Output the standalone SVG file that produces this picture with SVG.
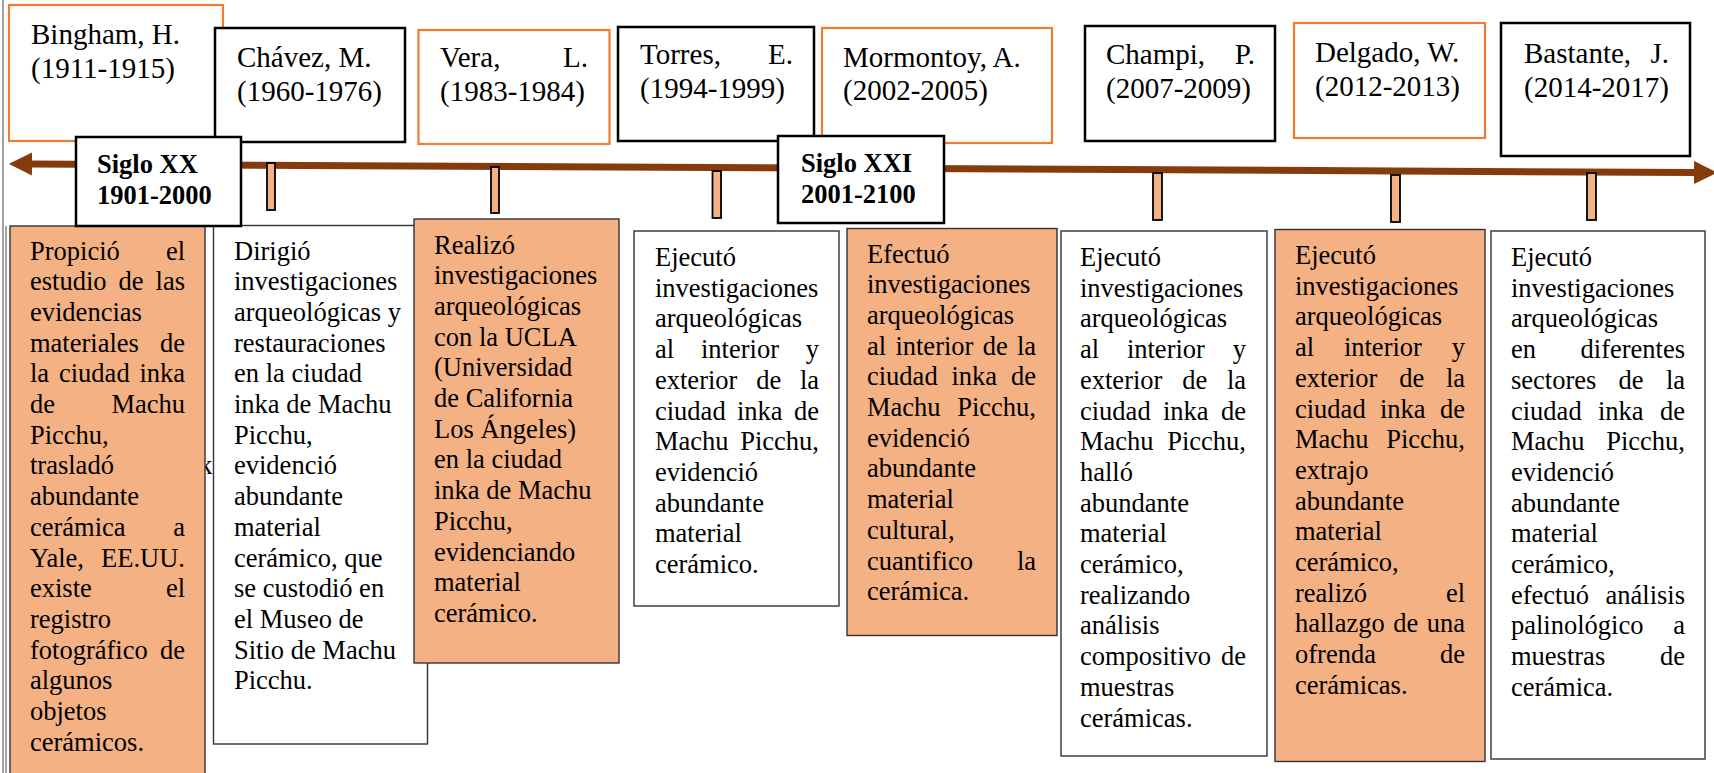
<svg xmlns="http://www.w3.org/2000/svg" width="1714" height="773" viewBox="0 0 1714 773">
<style>
.t{font-family:"Liberation Serif","Times New Roman",serif;font-size:26.5px;fill:#000}
.h{font-family:"Liberation Serif","Times New Roman",serif;font-size:29px;fill:#000}
.b{font-family:"Liberation Serif","Times New Roman",serif;font-size:26.5px;font-weight:bold;fill:#000}
.r{text-anchor:end}
.ob{fill:#F4B183;stroke:#333;stroke-width:1.4}
.wb{fill:#fff;stroke:#333;stroke-width:1.4}
.ho{fill:#fff;stroke:#ED7D31;stroke-width:2.2}
.hk{fill:#fff;stroke:#000;stroke-width:2.5}
.tick{fill:#F4B183;stroke:#000;stroke-width:1.8}
</style>
<defs>
<marker id="ah" viewBox="0 0 10 10" refX="0" refY="5" markerWidth="3.3" markerHeight="3.3" orient="auto-start-reverse" markerUnits="strokeWidth"><path d="M0,0 L10,5 L0,10 z" fill="#843C0C"/></marker>
</defs>
<rect width="1714" height="773" fill="#fff"/>
<g id="border">
<line x1="3" y1="0" x2="3" y2="773" stroke="#444" stroke-width="1"/>
<line x1="6" y1="226" x2="6" y2="773" stroke="#444" stroke-width="1"/>
</g>
<text class="t" x="199" y="474.4">k</text>
<g id="hdr-bingham"><rect class="ho" x="9" y="5" width="214" height="136"/>
<text class="h"><tspan x="31" y="44">Bingham, H.</tspan><tspan x="31" y="78">(1911-1915)</tspan></text></g>
<g id="hdr-chavez"><rect class="hk" x="215" y="28" width="190" height="114"/>
<text class="h"><tspan x="237" y="67">Chávez, M.</tspan><tspan x="237" y="101">(1960-1976)</tspan></text></g>
<g id="hdr-vera"><rect class="ho" x="418.5" y="30" width="191" height="114"/>
<text class="h"><tspan x="440" y="67">Vera,</tspan><tspan x="440" y="101">(1983-1984)</tspan></text><text class="h r" x="588" y="67">L.</text></g>
<g id="hdr-torres"><rect class="hk" x="618" y="27" width="196" height="114"/>
<text class="h"><tspan x="640" y="64">Torres,</tspan><tspan x="640" y="98">(1994-1999)</tspan></text><text class="h r" x="793" y="64">E.</text></g>
<g id="hdr-mormontoy"><rect class="ho" x="822" y="28" width="230" height="115"/>
<text class="h"><tspan x="843" y="67">Mormontoy, A.</tspan><tspan x="843" y="100">(2002-2005)</tspan></text></g>
<g id="hdr-champi"><rect class="hk" x="1085" y="26" width="190" height="115"/>
<text class="h"><tspan x="1106" y="64">Champi,</tspan><tspan x="1106" y="98">(2007-2009)</tspan></text><text class="h r" x="1255" y="64">P.</text></g>
<g id="hdr-delgado"><rect class="ho" x="1294" y="23" width="191" height="115"/>
<text class="h"><tspan x="1315" y="62">Delgado, W.</tspan><tspan x="1315" y="96">(2012-2013)</tspan></text></g>
<g id="hdr-bastante"><rect class="hk" x="1501" y="23" width="189" height="133"/>
<text class="h"><tspan x="1524" y="63">Bastante,</tspan><tspan x="1524" y="97">(2014-2017)</tspan></text><text class="h r" x="1669" y="63">J.</text></g>
<g id="connectors">
<line x1="32" y1="164" x2="1694" y2="172.5" stroke="#843C0C" stroke-width="7" marker-start="url(#ah)" marker-end="url(#ah)"/>
<rect class="tick" x="267" y="163" width="8" height="47"/>
<rect class="tick" x="491" y="167" width="8" height="46"/>
<rect class="tick" x="712.5" y="171" width="8.5" height="47"/>
<rect class="tick" x="1153" y="173" width="9" height="47"/>
<rect class="tick" x="1391" y="175" width="9" height="47"/>
<rect class="tick" x="1587" y="173" width="9" height="47"/>
</g>
<g id="box-bingham"><rect class="ob" x="10" y="226" width="195" height="560"/>
<text class="t"><tspan x="30" y="259.5">Propició</tspan><tspan x="30" y="290.2">estudio</tspan><tspan x="118.6" y="290.2">de</tspan><tspan x="30" y="320.9">evidencias</tspan><tspan x="30" y="351.6">materiales</tspan><tspan x="30" y="382.3">la</tspan><tspan x="59" y="382.3">ciudad</tspan><tspan x="30" y="413">de</tspan><tspan x="30" y="443.7">Picchu,</tspan><tspan x="30" y="474.4">trasladó</tspan><tspan x="30" y="505.1">abundante</tspan><tspan x="30" y="535.8">cerámica</tspan><tspan x="30" y="566.5">Yale,</tspan><tspan x="30" y="597.2">existe</tspan><tspan x="30" y="627.9">registro</tspan><tspan x="30" y="658.6">fotográfico</tspan><tspan x="30" y="689.3">algunos</tspan><tspan x="30" y="720">objetos</tspan><tspan x="30" y="750.7">cerámicos.</tspan></text>
<text class="t r"><tspan x="185" y="259.5">el</tspan><tspan x="185" y="290.2">las</tspan><tspan x="185" y="351.6">de</tspan><tspan x="185" y="382.3">inka</tspan><tspan x="185" y="413">Machu</tspan><tspan x="185" y="535.8">a</tspan><tspan x="185" y="566.5">EE.UU.</tspan><tspan x="185" y="597.2">el</tspan><tspan x="185" y="658.6">de</tspan></text></g>
<g id="box-chavez"><rect class="wb" x="213.5" y="225.5" width="214" height="518.5"/>
<text class="t"><tspan x="234" y="259.5">Dirigió</tspan><tspan x="234" y="290.2">investigaciones</tspan><tspan x="234" y="320.9">arqueológicas y</tspan><tspan x="234" y="351.6">restauraciones</tspan><tspan x="234" y="382.3">en la ciudad</tspan><tspan x="234" y="413">inka de Machu</tspan><tspan x="234" y="443.7">Picchu,</tspan><tspan x="234" y="474.4">evidenció</tspan><tspan x="234" y="505.1">abundante</tspan><tspan x="234" y="535.8">material</tspan><tspan x="234" y="566.5">cerámico, que</tspan><tspan x="234" y="597.2">se custodió en</tspan><tspan x="234" y="627.9">el Museo de</tspan><tspan x="234" y="658.6">Sitio de Machu</tspan><tspan x="234" y="689.3">Picchu.</tspan></text></g>
<g id="box-vera"><rect class="ob" x="414" y="219" width="205" height="444"/>
<text class="t"><tspan x="434" y="253.5">Realizó</tspan><tspan x="434" y="284.2">investigaciones</tspan><tspan x="434" y="314.9">arqueológicas</tspan><tspan x="434" y="345.6">con la UCLA</tspan><tspan x="434" y="376.3">(Universidad</tspan><tspan x="434" y="407">de California</tspan><tspan x="434" y="437.7">Los Ángeles)</tspan><tspan x="434" y="468.4">en la ciudad</tspan><tspan x="434" y="499.1">inka de Machu</tspan><tspan x="434" y="529.8">Picchu,</tspan><tspan x="434" y="560.5">evidenciando</tspan><tspan x="434" y="591.2">material</tspan><tspan x="434" y="621.9">cerámico.</tspan></text></g>
<g id="box-torres"><rect class="wb" x="634" y="231" width="205" height="375"/>
<text class="t"><tspan x="655" y="266">Ejecutó</tspan><tspan x="655" y="296.7">investigaciones</tspan><tspan x="655" y="327.4">arqueológicas</tspan><tspan x="655" y="358.1">al</tspan><tspan x="701" y="358.1">interior</tspan><tspan x="655" y="388.8">exterior</tspan><tspan x="756.2" y="388.8">de</tspan><tspan x="655" y="419.5">ciudad</tspan><tspan x="737" y="419.5">inka</tspan><tspan x="655" y="450.2">Machu</tspan><tspan x="655" y="480.9">evidenció</tspan><tspan x="655" y="511.6">abundante</tspan><tspan x="655" y="542.3">material</tspan><tspan x="655" y="573">cerámico.</tspan></text>
<text class="t r"><tspan x="819" y="358.1">y</tspan><tspan x="819" y="388.8">la</tspan><tspan x="819" y="419.5">de</tspan><tspan x="819" y="450.2">Picchu,</tspan></text></g>
<g id="box-mormontoy"><rect class="ob" x="847" y="228.5" width="210" height="407"/>
<text class="t"><tspan x="867" y="262.5">Efectuó</tspan><tspan x="867" y="293.2">investigaciones</tspan><tspan x="867" y="323.9">arqueológicas</tspan><tspan x="867" y="354.6">al</tspan><tspan x="895.4" y="354.6">interior</tspan><tspan x="982.7" y="354.6">de</tspan><tspan x="867" y="385.3">ciudad</tspan><tspan x="951.5" y="385.3">inka</tspan><tspan x="867" y="416">Machu</tspan><tspan x="867" y="446.7">evidenció</tspan><tspan x="867" y="477.4">abundante</tspan><tspan x="867" y="508.1">material</tspan><tspan x="867" y="538.8">cultural,</tspan><tspan x="867" y="569.5">cuantifico</tspan><tspan x="867" y="600.2">cerámica.</tspan></text>
<text class="t r"><tspan x="1036" y="354.6">la</tspan><tspan x="1036" y="385.3">de</tspan><tspan x="1036" y="416">Picchu,</tspan><tspan x="1036" y="569.5">la</tspan></text></g>
<g id="box-champi"><rect class="wb" x="1061" y="231" width="206" height="525"/>
<text class="t"><tspan x="1080" y="266">Ejecutó</tspan><tspan x="1080" y="296.7">investigaciones</tspan><tspan x="1080" y="327.4">arqueológicas</tspan><tspan x="1080" y="358.1">al</tspan><tspan x="1126.9" y="358.1">interior</tspan><tspan x="1080" y="388.8">exterior</tspan><tspan x="1182.2" y="388.8">de</tspan><tspan x="1080" y="419.5">ciudad</tspan><tspan x="1163" y="419.5">inka</tspan><tspan x="1080" y="450.2">Machu</tspan><tspan x="1080" y="480.9">halló</tspan><tspan x="1080" y="511.6">abundante</tspan><tspan x="1080" y="542.3">material</tspan><tspan x="1080" y="573">cerámico,</tspan><tspan x="1080" y="603.7">realizando</tspan><tspan x="1080" y="634.4">análisis</tspan><tspan x="1080" y="665.1">compositivo</tspan><tspan x="1080" y="695.8">muestras</tspan><tspan x="1080" y="726.5">cerámicas.</tspan></text>
<text class="t r"><tspan x="1246" y="358.1">y</tspan><tspan x="1246" y="388.8">la</tspan><tspan x="1246" y="419.5">de</tspan><tspan x="1246" y="450.2">Picchu,</tspan><tspan x="1246" y="665.1">de</tspan></text></g>
<g id="box-delgado"><rect class="ob" x="1275" y="229.5" width="210" height="532"/>
<text class="t"><tspan x="1295" y="264">Ejecutó</tspan><tspan x="1295" y="294.7">investigaciones</tspan><tspan x="1295" y="325.4">arqueológicas</tspan><tspan x="1295" y="356.1">al</tspan><tspan x="1343.9" y="356.1">interior</tspan><tspan x="1295" y="386.8">exterior</tspan><tspan x="1399.2" y="386.8">de</tspan><tspan x="1295" y="417.5">ciudad</tspan><tspan x="1380" y="417.5">inka</tspan><tspan x="1295" y="448.2">Machu</tspan><tspan x="1295" y="478.9">extrajo</tspan><tspan x="1295" y="509.6">abundante</tspan><tspan x="1295" y="540.3">material</tspan><tspan x="1295" y="571">cerámico,</tspan><tspan x="1295" y="601.7">realizó</tspan><tspan x="1295" y="632.4">hallazgo</tspan><tspan x="1393.3" y="632.4">de</tspan><tspan x="1295" y="663.1">ofrenda</tspan><tspan x="1295" y="693.8">cerámicas.</tspan></text>
<text class="t r"><tspan x="1465" y="356.1">y</tspan><tspan x="1465" y="386.8">la</tspan><tspan x="1465" y="417.5">de</tspan><tspan x="1465" y="448.2">Picchu,</tspan><tspan x="1465" y="601.7">el</tspan><tspan x="1465" y="632.4">una</tspan><tspan x="1465" y="663.1">de</tspan></text></g>
<g id="box-bastante"><rect class="wb" x="1491" y="231" width="214" height="528"/>
<text class="t"><tspan x="1511" y="266">Ejecutó</tspan><tspan x="1511" y="296.7">investigaciones</tspan><tspan x="1511" y="327.4">arqueológicas</tspan><tspan x="1511" y="358.1">en</tspan><tspan x="1511" y="388.8">sectores</tspan><tspan x="1618.6" y="388.8">de</tspan><tspan x="1511" y="419.5">ciudad</tspan><tspan x="1598" y="419.5">inka</tspan><tspan x="1511" y="450.2">Machu</tspan><tspan x="1511" y="480.9">evidenció</tspan><tspan x="1511" y="511.6">abundante</tspan><tspan x="1511" y="542.3">material</tspan><tspan x="1511" y="573">cerámico,</tspan><tspan x="1511" y="603.7">efectuó</tspan><tspan x="1511" y="634.4">palinológico</tspan><tspan x="1511" y="665.1">muestras</tspan><tspan x="1511" y="695.8">cerámica.</tspan></text>
<text class="t r"><tspan x="1685" y="358.1">diferentes</tspan><tspan x="1685" y="388.8">la</tspan><tspan x="1685" y="419.5">de</tspan><tspan x="1685" y="450.2">Picchu,</tspan><tspan x="1685" y="603.7">análisis</tspan><tspan x="1685" y="634.4">a</tspan><tspan x="1685" y="665.1">de</tspan></text></g>
<g id="siglo-xx"><rect class="hk" x="76" y="137" width="165" height="89"/>
<text class="b"><tspan x="97" y="173">Siglo XX</tspan><tspan x="97" y="204">1901-2000</tspan></text></g>
<g id="siglo-xxi"><rect class="hk" x="778" y="136" width="166" height="87"/>
<text class="b"><tspan x="801" y="172">Siglo XXI</tspan><tspan x="801" y="203">2001-2100</tspan></text></g>
</svg>
